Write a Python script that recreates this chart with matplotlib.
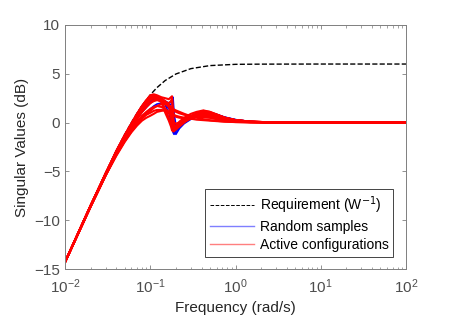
import matplotlib as mpl
mpl.use('Agg')

import numpy as np
import matplotlib.pyplot as plt
from matplotlib.lines import Line2D

plt.rcParams['font.family'] = ['Liberation Sans', 'DejaVu Sans']

# frequency grid (rad/s)
freq = [0.01, 0.02, 0.03, 0.04, 0.05, 0.06, 0.07, 0.08, 0.09, 0.1, 0.11, 0.12,
        0.135, 0.15, 0.165, 0.175, 0.18, 0.185, 0.19, 0.2, 0.22, 0.25, 0.3,
        0.35, 0.42, 0.5, 0.6, 0.75, 1.0, 1.5, 2.5, 4.0, 10.0, 100.0]

# requirement W^-1 (dB)
req_freq = [0.01, 0.015, 0.02, 0.03, 0.04, 0.05, 0.06, 0.07, 0.08, 0.1, 0.12,
            0.15, 0.2, 0.3, 0.5, 1.0, 2.0, 10.0, 100.0]
req_db = [-14.36, -10.89, -8.46, -5.12, -2.88, -1.24, 0.0, 0.96, 1.72, 2.84,
          3.59, 4.32, 4.98, 5.53, 5.84, 5.97, 5.99, 6.0, 6.0]

# random samples (dB)
blue_1 = [-14.3, -8.5, -5.2, -2.9, -1.3, -0.1, 0.9, 1.7, 2.2, 2.6, 2.7, 2.6,
          2.3, 1.9, 1.5, 1.2, 0.6, -0.2, -1.1, -0.8, -0.3, 0.2, 0.6, 0.9, 1.1,
          1.05, 0.85, 0.55, 0.3, 0.1, 0.03, 0.01, 0.0, 0.0]
blue_2 = [-14.3, -8.5, -5.3, -3.1, -1.6, -0.5, 0.4, 1.1, 1.6, 2.1, 2.4, 2.5,
          2.3, 1.8, 1.0, 0.2, -0.4, -1.0, -1.2, -0.9, -0.5, 0.0, 0.45, 0.7,
          0.85, 0.9, 0.75, 0.5, 0.25, 0.1, 0.03, 0.01, 0.0, 0.0]
blue_3 = [-14.3, -8.5, -5.3, -3.0, -1.5, -0.3, 0.6, 1.4, 2.0, 2.4, 2.6, 2.6,
          2.4, 2.2, 2.0, 2.1, 2.4, 2.0, 0.0, -0.7, -0.4, 0.1, 0.5, 0.8, 1.0,
          0.95, 0.8, 0.55, 0.3, 0.1, 0.03, 0.01, 0.0, 0.0]
blue_4 = [-14.3, -8.6, -5.4, -3.3, -1.9, -0.9, -0.1, 0.5, 1.0, 1.4, 1.7, 1.9,
          2.0, 1.9, 1.5, 0.9, 0.2, -0.5, -0.9, -0.8, -0.4, 0.0, 0.4, 0.6,
          0.75, 0.75, 0.6, 0.4, 0.2, 0.08, 0.02, 0.0, 0.0, 0.0]
blue_5 = [-14.3, -8.5, -5.3, -3.0, -1.5, -0.3, 0.6, 1.3, 1.9, 2.3, 2.5, 2.5,
          2.3, 2.0, 1.6, 1.3, 0.9, 0.3, -0.5, -1.2, -0.6, -0.1, 0.35, 0.65,
          0.9, 0.95, 0.8, 0.5, 0.25, 0.1, 0.03, 0.01, 0.0, 0.0]
blue_6 = [-14.3, -8.5, -5.3, -3.1, -1.6, -0.5, 0.4, 1.1, 1.6, 2.0, 2.3, 2.4,
          2.3, 2.1, 1.9, 1.8, 2.1, 2.6, 1.0, -0.3, -0.2, 0.2, 0.6, 0.85, 1.0,
          0.9, 0.7, 0.45, 0.22, 0.08, 0.02, 0.0, 0.0, 0.0]

# active configurations (dB)
red_1 = [-14.3, -8.5, -5.2, -2.9, -1.3, -0.1, 0.9, 1.7, 2.3, 2.8, 2.9, 2.8,
         2.6, 2.5, 2.4, 2.6, 2.7, 0.5, -0.9, -0.6, -0.2, 0.2, 0.6, 0.9, 1.2,
         1.1, 0.8, 0.5, 0.25, 0.1, 0.03, 0.01, 0.0, 0.0]
red_2 = [-14.3, -8.5, -5.2, -2.9, -1.3, -0.1, 0.9, 1.7, 2.3, 2.7, 2.8, 2.7,
         2.4, 2.1, 1.8, 1.6, 1.5, 1.4, 1.35, 1.25, 1.1, 0.9, 0.65, 0.5, 0.35,
         0.25, 0.18, 0.1, 0.06, 0.03, 0.01, 0.0, 0.0, 0.0]
red_3 = [-14.3, -8.5, -5.3, -3.1, -1.6, -0.5, 0.4, 1.1, 1.6, 2.0, 2.3, 2.4,
         2.1, 1.0, 0.2, -0.4, -0.8, -0.9, -0.8, -0.7, -0.4, 0.0, 0.5, 0.8,
         1.0, 0.95, 0.75, 0.45, 0.25, 0.1, 0.03, 0.01, 0.0, 0.0]
red_4 = [-14.3, -8.6, -5.4, -3.3, -1.9, -0.9, -0.1, 0.5, 0.9, 1.2, 1.5, 1.7,
         1.9, 1.9, 1.6, 1.0, 0.4, -0.3, -0.6, -0.5, -0.2, 0.1, 0.4, 0.6, 0.8,
         0.75, 0.6, 0.4, 0.2, 0.08, 0.02, 0.0, 0.0, 0.0]
red_5 = [-14.3, -8.6, -5.4, -3.3, -1.9, -0.9, -0.2, 0.4, 0.8, 1.0, 1.2, 1.3,
         1.3, 1.2, 1.0, 0.9, 0.85, 0.8, 0.75, 0.7, 0.6, 0.5, 0.4, 0.3, 0.25,
         0.2, 0.15, 0.1, 0.05, 0.02, 0.01, 0.0, 0.0, 0.0]
red_6 = [-14.3, -8.6, -5.4, -3.4, -2.0, -1.0, -0.3, 0.2, 0.5, 0.7, 0.9, 1.1,
         1.2, 1.3, 1.1, 0.5, 0.0, -0.4, -0.5, -0.4, -0.1, 0.2, 0.45, 0.6,
         0.7, 0.65, 0.5, 0.3, 0.15, 0.05, 0.01, 0.0, 0.0, 0.0]
red_7 = [-14.3, -8.5, -5.2, -3.0, -1.4, -0.2, 0.8, 1.6, 2.2, 2.6, 2.8, 2.7,
         2.2, 1.4, 0.5, -0.1, -0.4, -0.6, -0.5, -0.3, 0.1, 0.5, 0.9, 1.1,
         1.25, 1.1, 0.85, 0.5, 0.25, 0.1, 0.03, 0.01, 0.0, 0.0]
red_8 = [-14.3, -8.5, -5.3, -3.0, -1.5, -0.3, 0.6, 1.4, 2.0, 2.4, 2.6, 2.6,
         2.3, 2.0, 1.7, 1.5, 1.4, 1.3, 1.2, 1.1, 0.95, 0.8, 0.7, 0.65, 0.6,
         0.5, 0.35, 0.2, 0.1, 0.04, 0.01, 0.0, 0.0, 0.0]
red_9 = [-14.3, -8.5, -5.2, -3.0, -1.4, -0.2, 0.8, 1.5, 2.1, 2.5, 2.7, 2.7,
         2.5, 2.2, 1.8, 1.4, 0.9, 0.1, -0.5, -0.4, -0.1, 0.3, 0.7, 0.95, 1.1,
         1.0, 0.8, 0.5, 0.25, 0.1, 0.03, 0.01, 0.0, 0.0]
red_10 = [-14.3, -8.5, -5.3, -3.1, -1.6, -0.5, 0.4, 1.1, 1.6, 2.0, 2.2, 2.3,
          2.2, 2.0, 1.7, 1.5, 1.3, 1.0, 0.8, 0.6, 0.5, 0.45, 0.5, 0.55, 0.55,
          0.5, 0.4, 0.25, 0.12, 0.05, 0.01, 0.0, 0.0, 0.0]
red_11 = [-14.3, -8.6, -5.4, -3.2, -1.8, -0.7, 0.1, 0.7, 1.1, 1.4, 1.6, 1.7,
          1.6, 1.4, 1.1, 0.8, 0.5, 0.2, 0.0, -0.1, 0.0, 0.2, 0.5, 0.7, 0.85,
          0.8, 0.65, 0.4, 0.2, 0.07, 0.02, 0.0, 0.0, 0.0]
red_12 = [-14.3, -8.5, -5.3, -3.0, -1.5, -0.3, 0.6, 1.4, 1.9, 2.3, 2.5, 2.5,
          2.3, 2.1, 2.0, 2.2, 2.5, 1.2, -0.6, -0.7, -0.3, 0.1, 0.55, 0.85,
          1.05, 1.0, 0.8, 0.5, 0.25, 0.1, 0.03, 0.01, 0.0, 0.0]

blue_curves = [blue_1, blue_2, blue_3, blue_4, blue_5, blue_6]
red_curves = [red_1, red_2, red_3, red_4, red_5, red_6, red_7, red_8, red_9,
              red_10, red_11, red_12]

fig = plt.figure(figsize=(4.49, 3.36), dpi=100)
ax = fig.add_axes([0.1448, 0.1994, 0.7594, 0.7262])

ax.semilogx(req_freq, req_db, 'k--', linewidth=1.0)
for c in blue_curves:
    ax.semilogx(freq, c, color='#0000ff', linewidth=1.2)
for c in red_curves:
    ax.semilogx(freq, c, color='#ff0000', linewidth=1.5)

ax.set_xlim(0.01, 100)
ax.set_ylim(-15, 10)
ax.set_yticks([-15, -10, -5, 0, 5, 10])
ax.set_xticks([0.01, 0.1, 1, 10, 100])
ax.set_xticklabels(['$\\mathregular{10^{-2}}$', '$\\mathregular{10^{-1}}$',
                    '$\\mathregular{10^{0}}$', '$\\mathregular{10^{1}}$',
                    '$\\mathregular{10^{2}}$'])
ax.tick_params(which='both', direction='in', top=True, right=True,
               colors='#7f7f7f', labelcolor='#4d4d4d', labelsize=11)
ax.tick_params(which='major', length=3, width=0.6)
ax.tick_params(which='minor', length=1.8, width=0.5)
ax.tick_params(axis='x', pad=6)
for s in ax.spines.values():
    s.set_color('#7f7f7f')
    s.set_linewidth(0.7)

ax.set_xlabel('Frequency (rad/s)', fontsize=11, color='#262626')
ax.set_ylabel('Singular Values (dB)', fontsize=11, color='#262626')

handles = [Line2D([], [], color='k', linestyle='--', linewidth=0.7),
           Line2D([], [], color='#7f7fff', linewidth=1.0),
           Line2D([], [], color='#ff7f7f', linewidth=1.0)]
leg = ax.legend(handles, ['Requirement (W$^{-1}$)', 'Random samples',
                          'Active configurations'],
                loc='lower right', bbox_to_anchor=(0.963, 0.05),
                fontsize=10, fancybox=False, framealpha=1,
                edgecolor='#262626', handlelength=3.2, handletextpad=0.4,
                borderpad=0.35, labelspacing=0.3, borderaxespad=0.0)
leg.get_frame().set_linewidth(0.6)

fig.savefig('out.png', dpi=100)
